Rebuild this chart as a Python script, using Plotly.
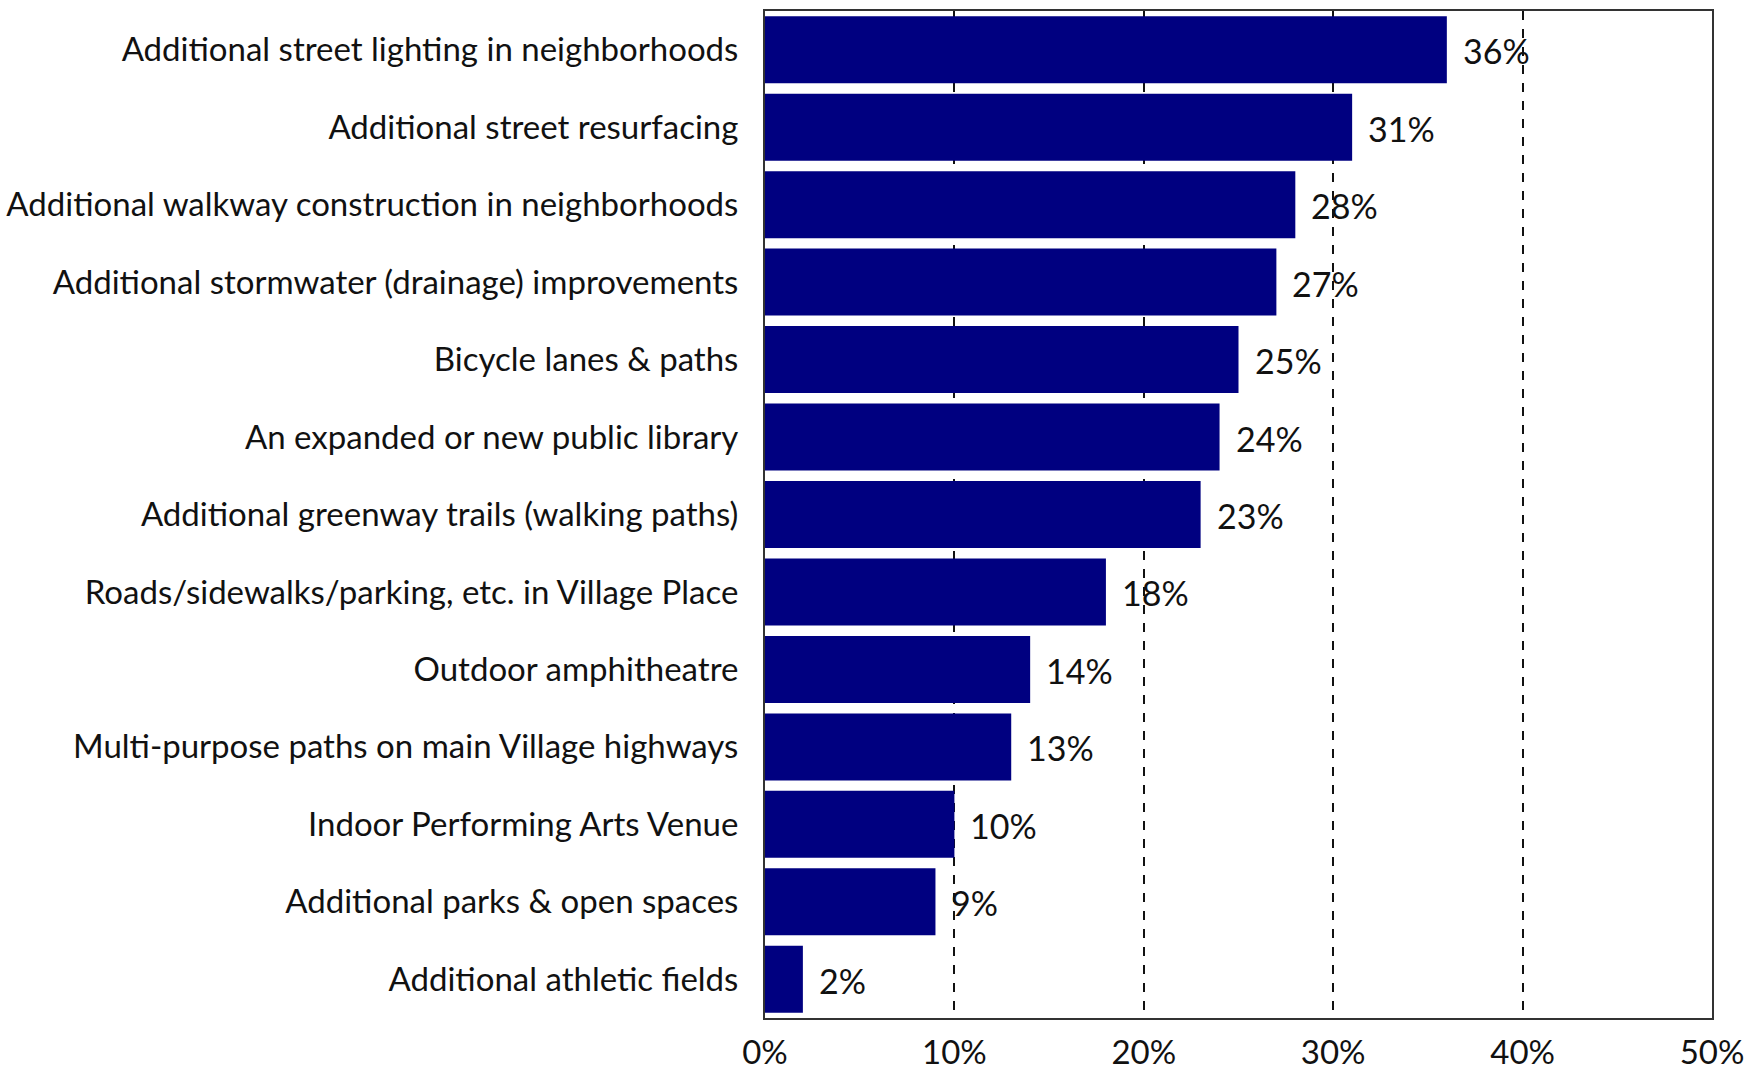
import plotly.graph_objects as go

# Survey priorities, ordered top to bottom as shown
categories = [
    "Additional street lighting in neighborhoods",
    "Additional street resurfacing",
    "Additional walkway construction in neighborhoods",
    "Additional stormwater (drainage) improvements",
    "Bicycle lanes & paths",
    "An expanded or new public library",
    "Additional greenway trails (walking paths)",
    "Roads/sidewalks/parking, etc. in Village Place",
    "Outdoor amphitheatre",
    "Multi-purpose paths on main Village highways",
    "Indoor Performing Arts Venue",
    "Additional parks & open spaces",
    "Additional athletic fields",
]
percents = [36, 31, 28, 27, 25, 24, 23, 18, 14, 13, 10, 9, 2]
x_ticks = [0, 10, 20, 30, 40, 50]

FONT = "Lato"
BAR_COLOR = "#000080"
TEXT_COLOR = "#111111"

fig = go.Figure(
    go.Bar(
        x=percents,
        y=categories,
        orientation="h",
        marker=dict(color=BAR_COLOR, line=dict(width=0)),
        width=0.865,
        hoverinfo="skip",
    )
)

# value labels just past the end of each bar
for cat, val in zip(categories, percents):
    fig.add_annotation(
        x=val, y=cat, text=f"{val}%", showarrow=False,
        xanchor="left", xshift=14, yshift=-1,
        font=dict(family=FONT, size=34, color=TEXT_COLOR),
    )

fig.update_layout(
    width=1746,
    height=1075,
    margin=dict(l=765, r=34, t=11, b=57),
    paper_bgcolor="white",
    plot_bgcolor="white",
    showlegend=False,
    font=dict(family=FONT, size=33, color=TEXT_COLOR),
)

fig.update_xaxes(
    range=[0, 50],
    tickvals=x_ticks,
    ticktext=[f"{t}%" for t in x_ticks],
    tickfont=dict(size=33),
    showgrid=True,
    gridcolor="#111111",
    gridwidth=1.5,
    griddash="dash",
    showline=True,
    mirror=True,
    linecolor="#333333",
    linewidth=2,
    ticks="",
    ticklabelstandoff=4,
    zeroline=False,
    automargin=False,
    fixedrange=True,
)
fig.update_yaxes(
    categoryorder="array",
    categoryarray=categories,
    autorange="reversed",
    showgrid=False,
    showline=True,
    mirror=True,
    linecolor="#333333",
    linewidth=2,
    ticks="",
    ticklabelstandoff=18,
    automargin=False,
    fixedrange=True,
)

fig.write_html("out.html")
